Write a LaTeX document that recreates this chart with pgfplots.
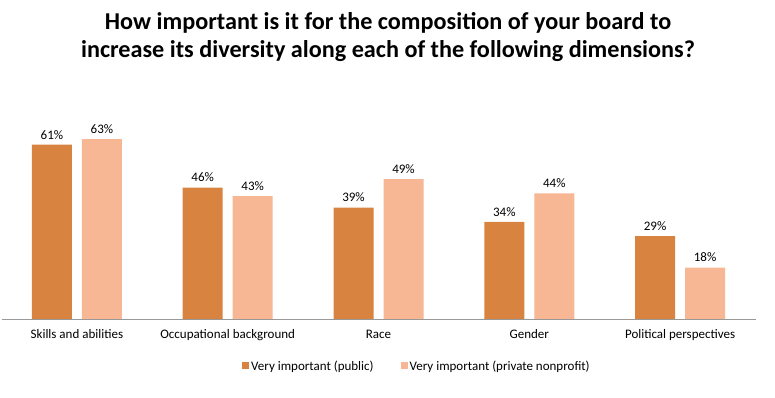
\documentclass[border=0pt]{standalone}
\usepackage{pgfplots}
\pgfplotsset{compat=1.18}
\usepackage{fontspec}
\setmainfont{Carlito}
\definecolor{darkor}{RGB}{216,132,64}
\definecolor{lightor}{RGB}{247,182,148}
\begin{document}
\begin{tikzpicture}[x=1pt,y=1pt]
\useasboundingbox (0,0) rectangle (775,398);
\node[font=\fontsize{24.2}{28}\selectfont\bfseries, align=center] at (388,361) {How important is it for the composition of your board to\\increase its diversity along each of the following dimensions?};
\begin{axis}[
  at={(1.5pt,79pt)}, anchor=south west,
  scale only axis, width=754pt, height=200pt,
  xmin=-0.5, xmax=4.5, ymin=0, ymax=70,
  ybar=10pt, bar width=40pt,
  axis x line*=bottom, axis y line=none,
  x axis line style={draw=gray!80, line width=0.7pt},
  xtick=data, xtick style={draw=none},
  xticklabels={Skills and abilities, Occupational background, Race, Gender, Political perspectives},
  xticklabel style={font=\fontsize{13}{15}\selectfont, yshift=-3pt},
  /pgf/number format/assume math mode=true,
  nodes near coords={\pgfmathprintnumber{\pgfplotspointmeta}\%},
  nodes near coords style={font=\fontsize{13}{15}\selectfont, black, yshift=2pt},
  legend style={at={(0.551,-0.235)}, anchor=center, draw=none, legend columns=2, font=\fontsize{13}{15}\selectfont, /tikz/every even column/.append style={column sep=25pt}},
  legend image code/.code={\fill[#1] (0pt,-3pt) rectangle (7pt,4pt);},
]
\addplot[fill=darkor, draw=none] coordinates {(0,61) (1,46) (2,39) (3,34) (4,29)};
\addplot[fill=lightor, draw=none] coordinates {(0,63) (1,43) (2,49) (3,44) (4,18)};
\legend{Very important (public), Very important (private nonprofit)}
\end{axis}
\end{tikzpicture}
\end{document}
